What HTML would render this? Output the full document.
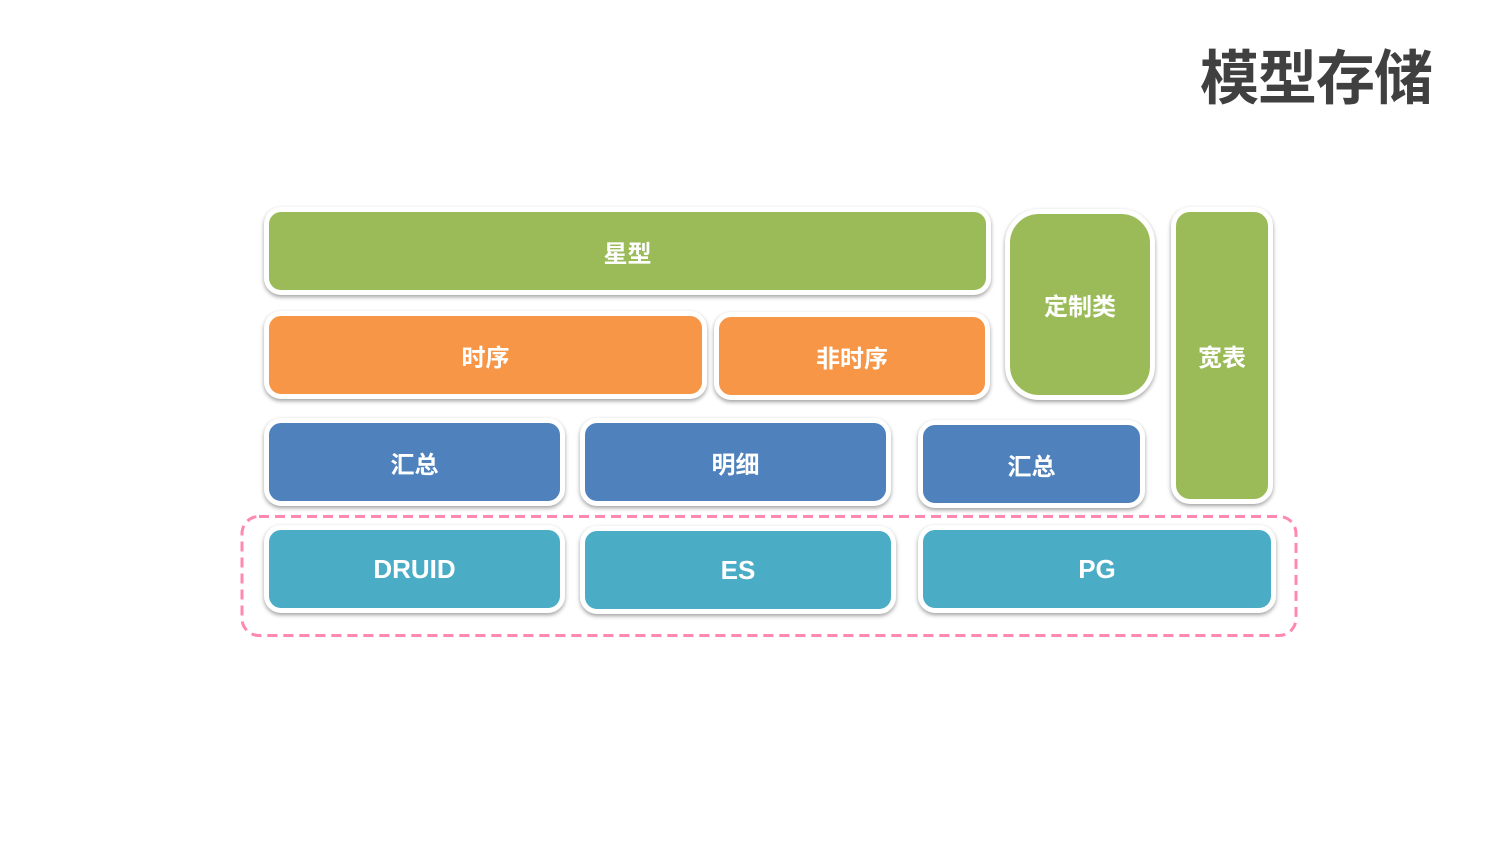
<!DOCTYPE html>
<html>
<head>
<meta charset="utf-8">
<style>
html,body{margin:0;padding:0;background:#fff;}
body{width:1500px;height:844px;position:relative;overflow:hidden;font-family:"Liberation Sans","Noto Sans CJK SC",sans-serif;}
.b{position:absolute;border:5px solid #fff;border-radius:17px;box-shadow:0 2px 4px rgba(0,0,0,0.38);color:#fff;font-weight:bold;font-size:24px;display:flex;align-items:center;justify-content:center;font-family:"Noto Sans CJK SC",sans-serif;}
.g{background:#9BBB59;}
.o{background:#F79646;}
.bl{background:#4F81BD;}
.t{background:#4BACC6;}
.en{font-size:26px;font-family:"Liberation Sans",sans-serif;}
.title{position:absolute;left:1200px;top:39px;font-size:59px;line-height:70px;font-weight:bold;color:#404040;font-family:"Noto Sans CJK SC",sans-serif;letter-spacing:-1px;}
</style>
</head>
<body>
<div class="title">模型存储</div>

<svg style="position:absolute;left:0;top:0" width="1500" height="844">
<rect x="242" y="516.5" width="1054" height="119" rx="17" ry="17" fill="none" stroke="#FF88AF" stroke-width="3" stroke-dasharray="10 6"/>
</svg>

<div class="b g" style="left:264px;top:207px;width:717px;height:78px;">星型</div>
<div class="b o" style="left:264px;top:311px;width:433px;height:78px;">时序</div>
<div class="b o" style="left:714px;top:312px;width:266px;height:78px;">非时序</div>
<div class="b g" style="left:1005px;top:209px;width:140px;height:181px;border-radius:34px;">定制类</div>
<div class="b g" style="left:1171px;top:207px;width:92px;height:287px;border-radius:19px;">宽表</div>

<div class="b bl" style="left:264px;top:418px;width:291px;height:78px;">汇总</div>
<div class="b bl" style="left:580px;top:418px;width:301px;height:78px;">明细</div>
<div class="b bl" style="left:918px;top:420px;width:217px;height:78px;">汇总</div>

<div class="b t en" style="left:264px;top:525px;width:291px;height:78px;">DRUID</div>
<div class="b t en" style="left:580px;top:526px;width:306px;height:78px;">ES</div>
<div class="b t en" style="left:918px;top:525px;width:348px;height:78px;">PG</div>
</body>
</html>
